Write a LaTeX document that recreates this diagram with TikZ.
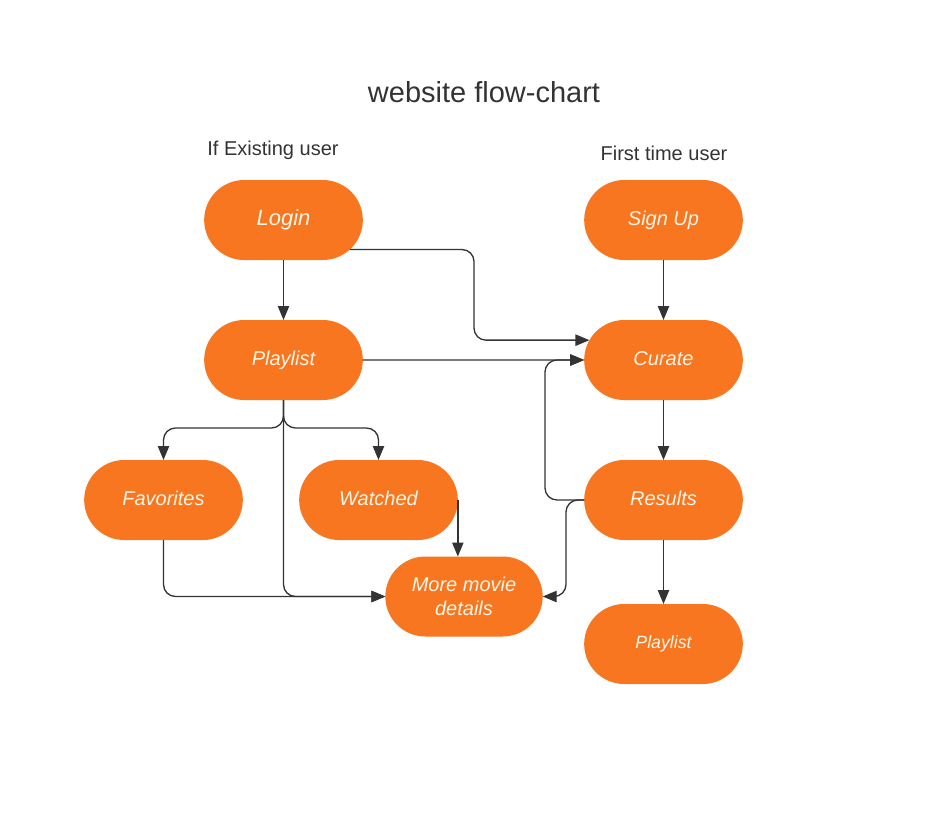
\documentclass[tikz,border=0pt]{standalone}
\usepackage{fontspec}
\setmainfont{Liberation Sans}
\usetikzlibrary{arrows.meta,shapes.misc,calc}
\definecolor{boxorange}{HTML}{F7761F}
\definecolor{inkgray}{HTML}{333333}
\definecolor{cream}{HTML}{FFF6EA}
\tikzset{every picture/.style={line width=1pt}}
\tikzset{
  pill/.style={rounded rectangle, fill=boxorange, minimum width=119pt,
               minimum height=60pt, inner sep=0pt, outer sep=0pt,
               text=cream, align=center,
               font=\itshape\fontsize{#1}{18}\selectfont},
  pill/.default={15}, % font size of the box text
  caption/.style={text=inkgray, font=\fontsize{#1}{18}\selectfont},
  caption/.default={15},
  link/.style={draw=inkgray, rounded corners=9pt,
               -{Triangle[length=10.5pt,width=8.5pt]}},
}

\begin{document}
\begin{tikzpicture}[x=0.75pt,y=-0.75pt]
  \useasboundingbox (0,0) rectangle (942,817);
  % headings
  \node[caption=21.75] (title) at (484,92) {website flow-chart};
  \node[caption] (existing) at (273,150) {If Existing user};
  \node[caption] (firsttime) at (664,153) {First time user};
  % boxes
  \node[pill=16.5] (login) at (283.5,220) {\raisebox{2pt}{Login}};
  \node[pill] (signup) at (663.5,220) {\raisebox{1.5pt}{Sign Up}};
  \node[pill] (playlist) at (283.5,360) {\raisebox{1.5pt}{Playlist}};
  \node[pill] (curate) at (663.5,360) {\raisebox{1.5pt}{Curate}};
  \node[pill] (favorites) at (163.5,500) {\raisebox{2pt}{Favorites}};
  \node[pill] (watched) at (378.5,500) {\raisebox{2pt}{Watched}};
  \node[pill] (results) at (663.5,500) {\raisebox{2pt}{Results}};
  \node[pill, minimum width=118pt] (more) at (464,596.5) {More movie\\details};
  \node[pill=13.3] (playlist2) at (663.5,644) {\raisebox{1.5pt}{Playlist}};
  % bends
  \coordinate (jogA) at (474,300);
  \coordinate (split) at ($(playlist.south)+(0,28)$);
  \coordinate (jogB) at (545,430);
  \coordinate (jogC) at (566,550);
  % existing user side
  \draw[link] (login) -- (playlist);
  \draw[link] (login.-24) -| (jogA) |- (curate.165);
  \draw[link] (playlist) -- (curate);
  \draw[link] (playlist.south) -- (split) -| (favorites.north);
  \draw[link] (playlist.south) -- (split) -| (watched.north);
  \draw[link] (playlist.south) |- (more.west);
  \draw[link] (favorites.south) |- (more.west);
  \draw[link] (watched.east) -- (watched.east |- more.north);
  % first time user side
  \draw[link] (signup) -- (curate);
  \draw[link] (curate) -- (results);
  \draw[link] (results) -- (playlist2);
  \draw[link] (results.west) -| (jogB) |- (curate.west);
  \draw[link] (results.west) -| (jogC) |- (more.east);
\end{tikzpicture}
\end{document}
